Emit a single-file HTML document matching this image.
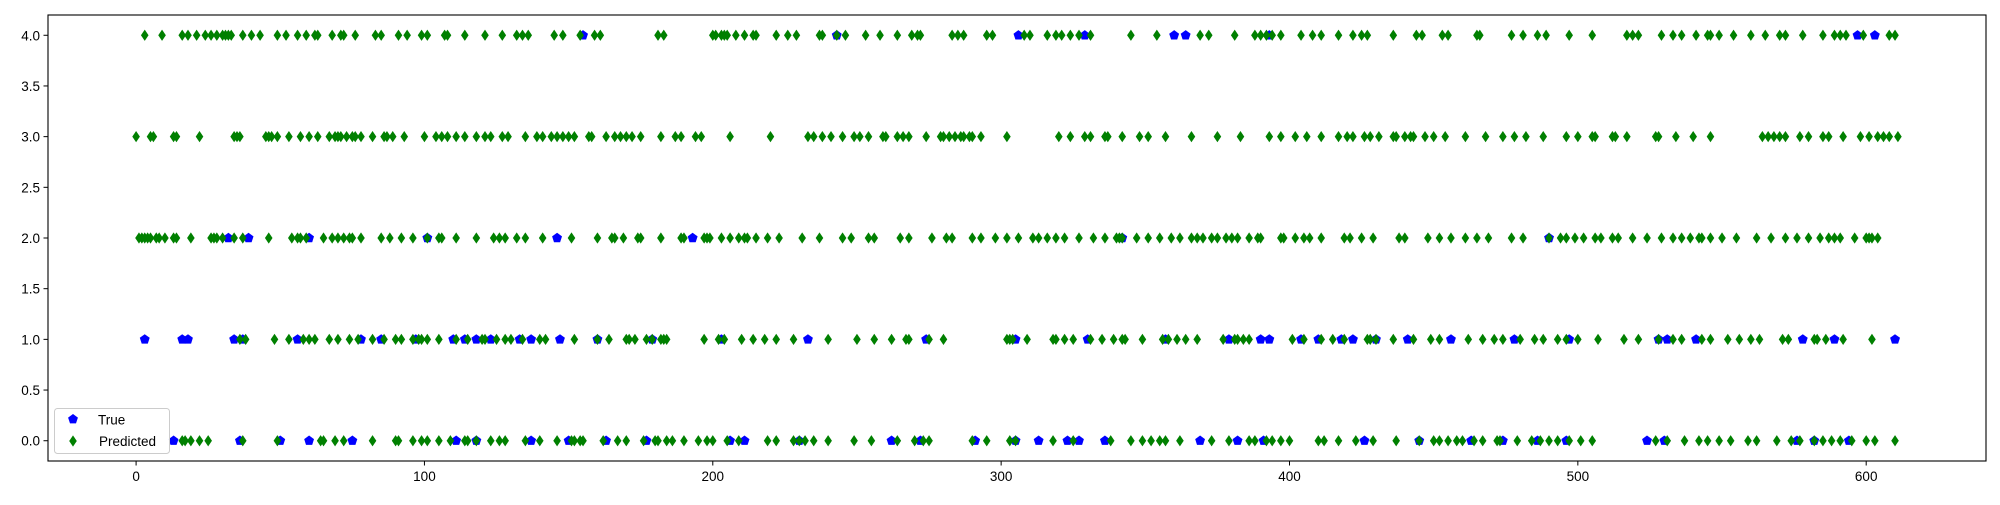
<!DOCTYPE html>
<html><head><meta charset="utf-8"><style>
body{margin:0;background:#fff;width:2000px;height:500px;overflow:hidden;font-family:"Liberation Sans","DejaVu Sans",sans-serif}
</style></head><body>
<svg id="chart" width="2000" height="500" xmlns="http://www.w3.org/2000/svg"></svg>
<script>
const xTicks=[0,100,200,300,400,500,600];
const yTicks=[0,0.5,1,1.5,2,2.5,3,3.5,4];
const pred4=[3,9,16,18,21,24,26,28,30,31,32,33,37,40,43,49,52,56,59,62,63,68,71,72,76,83,85,91,94,99,101,107,108,114,121,127,132,134,136,145,148,154,159,161,181,183,200,201,203,204,205,208,211,214,215,222,226,229,237,238,243,246,253,258,264,269,271,272,283,285,287,295,297,308,310,316,319,321,324,327,331,345,354,369,372,381,388,390,392,394,397,404,408,411,417,422,425,427,436,444,446,453,455,465,466,477,481,486,489,497,505,517,519,521,529,533,536,541,545,546,549,554,560,565,570,572,578,585,589,591,593,599,608,610];
const true4=[155,243,306,329,360,364,393,597,603];
const pred3=[0,5,6,13,14,22,34,35,36,45,46,47,49,53,57,60,63,67,69,70,71,73,75,76,78,82,86,87,89,93,100,104,106,108,111,114,118,121,123,127,129,135,139,141,144,146,148,150,152,157,158,163,166,168,170,172,175,182,187,189,194,196,206,220,233,235,238,241,245,249,251,254,259,260,264,266,268,274,279,280,282,284,286,287,289,290,293,302,320,324,329,331,336,337,342,348,351,357,366,375,383,393,397,402,406,411,417,420,422,426,428,431,436,437,440,442,443,447,450,454,461,468,474,478,482,488,496,500,505,506,512,513,517,527,528,534,540,546,564,566,568,570,572,577,580,585,587,592,598,601,604,606,608,611];
const true3=[];
const pred2=[1,2,3,4,5,7,8,10,13,14,19,26,27,28,30,34,37,46,54,56,57,59,65,68,70,72,74,75,78,85,88,92,96,101,105,106,111,118,124,126,128,132,135,141,151,160,165,166,169,174,175,182,189,190,197,198,199,203,206,209,211,212,215,219,223,231,237,245,248,254,256,265,268,276,281,283,290,293,298,302,306,311,313,316,319,322,327,332,336,340,341,342,347,351,355,359,362,366,368,370,373,375,378,380,382,386,389,390,397,398,402,405,407,411,419,421,425,429,438,440,448,452,456,461,465,469,477,481,490,494,496,499,502,506,508,512,514,519,524,529,533,536,539,542,543,546,550,555,562,567,572,576,580,584,587,589,591,596,600,601,602,604];
const true2=[32,39,60,101,146,193,342,490];
const pred1=[36,38,48,53,58,60,62,67,70,74,77,82,86,90,92,96,98,99,101,105,111,115,120,121,125,128,130,134,140,142,152,160,164,170,171,173,177,179,182,183,184,197,202,204,210,214,218,222,228,240,250,256,262,267,268,275,280,302,303,304,309,318,319,322,325,331,335,339,342,343,349,356,358,361,364,368,377,381,382,384,386,401,405,411,415,419,427,428,430,436,443,449,452,462,467,471,474,480,485,488,493,496,500,507,516,521,528,533,536,543,546,552,556,560,563,571,573,582,583,586,592,602];
const true1=[3,16,18,34,37,56,78,85,97,110,114,118,123,133,137,147,160,179,203,233,274,305,330,357,379,390,393,404,410,418,422,430,441,456,478,497,528,531,541,578,589,610];
const pred0=[16,17,19,22,25,37,49,64,65,69,72,82,90,91,96,99,101,105,109,114,115,118,123,126,128,135,140,146,151,152,154,155,162,167,170,176,180,181,184,186,190,195,198,200,205,209,219,222,228,230,232,235,240,249,255,264,270,273,275,290,295,303,305,318,325,338,345,349,352,355,357,362,373,379,386,388,392,394,397,400,410,412,417,423,429,437,445,450,452,455,458,460,464,467,472,473,479,484,487,490,493,497,501,505,527,531,537,542,545,549,553,559,562,569,574,577,582,585,588,591,595,600,603,610];
const true0=[13,36,50,60,75,111,118,137,150,163,177,206,211,230,262,272,291,305,313,323,327,336,369,382,391,426,445,463,474,486,496,524,530,576,582,594];
const classes=[0,1,2,3,4];
const predSeries=[pred0,pred1,pred2,pred3,pred4];
const trueSeries=[true0,true1,true2,true3,true4];

const L=48,R=1986,T=15,B=461,XMIN=-30.55,XMAX=641.55,YMIN=-0.2,YMAX=4.2;
const sx=v=>L+(v-XMIN)/(XMAX-XMIN)*(R-L);
const sy=v=>B-(v-YMIN)/(YMAX-YMIN)*(B-T);
const NS="http://www.w3.org/2000/svg";
const svg=document.getElementById('chart');
function mk(tag,attrs,parent){const e=document.createElementNS(NS,tag);for(const k in attrs)e.setAttribute(k,attrs[k]);(parent||svg).appendChild(e);return e;}
function pent(cx,cy,r){let p=[];for(let i=0;i<5;i++){const a=-Math.PI/2+i*2*Math.PI/5;p.push((cx+r*Math.cos(a)).toFixed(1)+','+(cy+r*Math.sin(a)).toFixed(1));}return p.join(' ');}
function diam(cx,cy){return `${cx},${cy-5.6} ${cx+3.8},${cy} ${cx},${cy+5.6} ${cx-3.8},${cy}`;}

const gT=mk('g',{});


classes.forEach((c,ci)=>{trueSeries[ci].forEach(i=>{
  const p=mk('polygon',{points:pent(sx(i),sy(c),5.2),fill:'#0000ff'},gT);
  
  
});});
const gP=mk('g',{});


classes.forEach((c,ci)=>{predSeries[ci].forEach(i=>{
  const p=mk('polygon',{points:diam(sx(i),sy(c)),fill:'#008000'},gP);
  
  
});});

const frame=mk('rect',{x:L,y:T,width:R-L,height:B-T,fill:'none',stroke:'#000','stroke-width':1.1});


xTicks.forEach(t=>{
  const x=sx(t);
  const l=mk('line',{x1:x,x2:x,y1:B,y2:B+4.5,stroke:'#000','stroke-width':1});
  
  
  const tx=mk('text',{x:x,y:B+20,'text-anchor':'middle','font-size':13.5,fill:'#000'});
  tx.textContent=t;
  
  
});
yTicks.forEach(t=>{
  const y=sy(t);
  const l=mk('line',{x1:L-4.5,x2:L,y1:y,y2:y,stroke:'#000','stroke-width':1});
  
  
  const tx=mk('text',{x:L-8,y:y+5,'text-anchor':'end','font-size':13.5,fill:'#000'});
  tx.textContent=t.toFixed(1);
  
  
});
</script>
<svg style="position:absolute;left:0;top:0" width="2000" height="500">
<rect x="54.5" y="408.5" width="115" height="45" rx="3" fill="#fff" fill-opacity="0.8" stroke="#ccc"/>
<g>
<polygon points="73,414 77.9,417.6 76,423.4 70,423.4 68.1,417.6" fill="#0000ff"/>
<text x="98" y="424.5" font-size="13.5">True</text></g>
<g>
<polygon points="73,435.4 76.8,441 73,446.6 69.2,441" fill="#008000"/>
<text x="99" y="446" font-size="13.5">Predicted</text></g>
</svg>
</body></html>
